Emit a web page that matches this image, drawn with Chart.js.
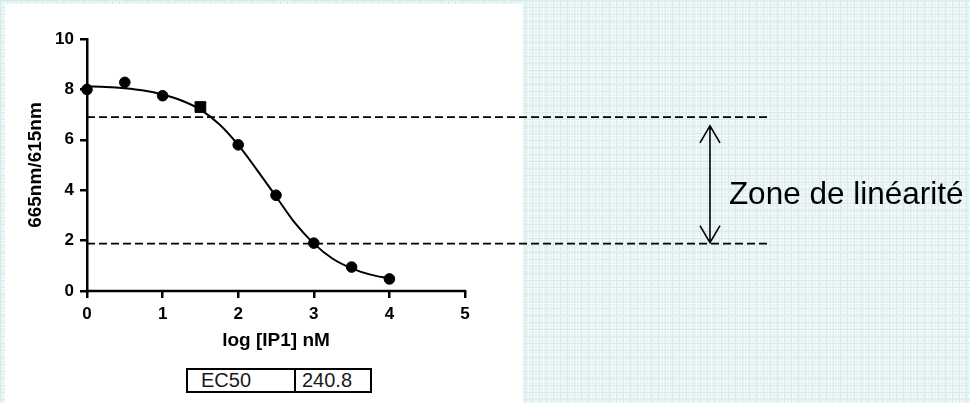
<!DOCTYPE html>
<html>
<head>
<meta charset="utf-8">
<script src="https://cdn.jsdelivr.net/npm/chart.js@4.4.1/dist/chart.umd.min.js"></script>
<style>
  html, body { margin: 0; padding: 0; }
  body {
    width: 970px; height: 403px; overflow: hidden; position: relative;
    background-color: #e5f2f3;
    background-image:
      linear-gradient(#d6ebed 1px, transparent 1px),
      linear-gradient(90deg, #d6ebed 1px, transparent 1px),
      linear-gradient(rgba(255,255,255,0.45) 1px, transparent 1px),
      linear-gradient(90deg, rgba(255,255,255,0.45) 1px, transparent 1px);
    background-size: 7px 7px, 7px 7px, 3px 3px, 3px 3px;
  }
  #panel { position: absolute; left: 5px; top: 4px; width: 518px; height: 399px; background: #fff; }
  #wrap { position: absolute; left: 0; top: 0; width: 970px; height: 403px; }
  #ec50 {
    position: absolute; left: 186px; top: 368px; width: 186px; height: 25px;
    box-sizing: border-box; border: 2px solid #000; display: flex; background: #fff;
    font: 20px "Liberation Sans", Arial, sans-serif; color: #1a1a1a; line-height: 21px;
  }
  #ec50 .k { width: 108px; padding-left: 13px; box-sizing: border-box; border-right: 2px solid #000; }
  #ec50 .v { padding-left: 6px; }
</style>
</head>
<body>
<div id="panel"></div>
<div id="wrap"><canvas id="chart"></canvas></div>
<div id="ec50"><div class="k" id="ecKey"></div><div class="v" id="ecVal"></div></div>
<script>
// measured points (log dose, ratio)
const doseLog = [0, 0.5, 1, 1.5, 2, 2.5, 3, 3.5, 4];
const ratio = [8.0, 8.28, 7.75, 7.3, 5.8, 3.8, 1.9, 0.95, 0.48];
// fitted curve
const fitX = [0, 0.25, 0.5, 0.75, 1, 1.25, 1.5, 1.75, 2, 2.25, 2.5, 2.75, 3, 3.25, 3.5, 3.75, 4];
const fitY = [8.12, 8.1, 8.05, 7.96, 7.8, 7.56, 7.2, 6.62, 5.8, 4.8, 3.75, 2.7, 1.88, 1.28, 0.9, 0.65, 0.5];
// linear zone limits
const upperLimit = 6.9;
const lowerLimit = 1.88;
const limitEnd = 9.03;
const xTicks = [0, 1, 2, 3, 4, 5];
const yTicks = [0, 2, 4, 6, 8, 10];
const xTitle = 'log [IP1] nM';
const yTitle = '665nm/615nm';
const zoneLabel = 'Zone de linéarité';
const ecKey = 'EC50';
const ecValue = '240.8';

document.getElementById('ecKey').textContent = ecKey;
document.getElementById('ecVal').textContent = ecValue;

const FONT = '"Liberation Sans", Arial, sans-serif';
Chart.defaults.font.family = FONT;
Chart.defaults.color = '#000';

const arrow = { x: 8.24, top: 6.55, bottom: 1.92, labelX: 8.49, labelY: 3.8 };

const extras = {
  id: 'extras',
  afterDatasetsDraw(chart) {
    const { ctx, scales: { x, y } } = chart;
    ctx.save();
    ctx.strokeStyle = '#000';
    ctx.fillStyle = '#000';
    // x axis line only from 0 to 5
    ctx.lineWidth = 2.5;
    const y0 = y.getPixelForValue(0);
    const xa = x.getPixelForValue(xTicks[0]);
    const xb = x.getPixelForValue(xTicks[xTicks.length - 1]);
    ctx.beginPath();
    ctx.moveTo(xa - 1.25, y0);
    ctx.lineTo(xb + 1.25, y0);
    ctx.stroke();
    // x title centred under the drawn axis
    ctx.font = 'bold 19px ' + FONT;
    ctx.textAlign = 'center';
    ctx.textBaseline = 'middle';
    ctx.fillText(xTitle, (xa + xb) / 2, y0 + 50);
    // double arrow
    const ax = x.getPixelForValue(arrow.x);
    const at = y.getPixelForValue(arrow.top);
    const ab = y.getPixelForValue(arrow.bottom);
    ctx.lineWidth = 1.6;
    ctx.beginPath();
    ctx.moveTo(ax, at); ctx.lineTo(ax, ab);
    ctx.moveTo(ax - 10, at + 17); ctx.lineTo(ax, at); ctx.lineTo(ax + 10, at + 17);
    ctx.moveTo(ax - 10, ab - 17); ctx.lineTo(ax, ab); ctx.lineTo(ax + 10, ab - 17);
    ctx.stroke();
    ctx.font = '31.5px ' + FONT;
    ctx.textAlign = 'left';
    ctx.fillText(zoneLabel, x.getPixelForValue(arrow.labelX), y.getPixelForValue(arrow.labelY));
    ctx.restore();
  }
};

const tickGrid = { drawOnChartArea: false, drawTicks: true, tickLength: 7, lineWidth: 2.5, color: '#000' };

new Chart(document.getElementById('chart'), {
  type: 'scatter',
  data: {
    datasets: [{
      data: doseLog.map((v, i) => ({ x: v, y: ratio[i] })),
      backgroundColor: '#000',
      borderColor: '#000',
      pointStyle: doseLog.map((v, i) => i === 3 ? 'rect' : 'circle'),
      pointRadius: doseLog.map((v, i) => i === 3 ? 7.6 : 5.3),
      clip: false,
      order: 0
    }, {
      data: fitX.map((v, i) => ({ x: v, y: fitY[i] })),
      showLine: true,
      borderColor: '#000',
      borderWidth: 2,
      pointRadius: 0,
      cubicInterpolationMode: 'monotone',
      clip: false,
      order: 1
    }, {
      data: [{ x: 0, y: upperLimit }, { x: limitEnd, y: upperLimit }],
      showLine: true,
      borderColor: '#000',
      borderWidth: 1.7,
      borderDash: [8, 4],
      pointRadius: 0,
      clip: false,
      order: 2
    }, {
      data: [{ x: 0, y: lowerLimit }, { x: limitEnd, y: lowerLimit }],
      showLine: true,
      borderColor: '#000',
      borderWidth: 1.7,
      borderDash: [8, 4],
      pointRadius: 0,
      clip: false,
      order: 2
    }]
  },
  options: {
    responsive: true,
    maintainAspectRatio: false,
    animation: false,
    layout: { padding: { left: 0, top: 39, right: 195, bottom: 0 } },
    plugins: { legend: { display: false }, tooltip: { enabled: false } },
    scales: {
      x: {
        type: 'linear', min: 0, max: 9.1,
        afterBuildTicks: s => { s.ticks = xTicks.map(v => ({ value: v })); },
        afterFit: s => { s.height = 112; },
        ticks: { font: { size: 17, weight: 'bold' }, color: '#000', padding: 6, maxRotation: 0, autoSkip: false },
        grid: tickGrid,
        border: { display: false }
      },
      y: {
        type: 'linear', min: 0, max: 10,
        afterBuildTicks: s => { s.ticks = yTicks.map(v => ({ value: v })); },
        afterFit: s => { s.width = 87; },
        ticks: { font: { size: 17, weight: 'bold' }, color: '#000', padding: 6 },
        grid: tickGrid,
        border: { display: true, width: 2.5, color: '#000' },
        title: { display: true, text: yTitle, color: '#000', font: { size: 19, weight: 'bold' }, padding: { top: 24.6, bottom: 0 } }
      }
    }
  },
  plugins: [extras]
});
</script>
</body>
</html>
